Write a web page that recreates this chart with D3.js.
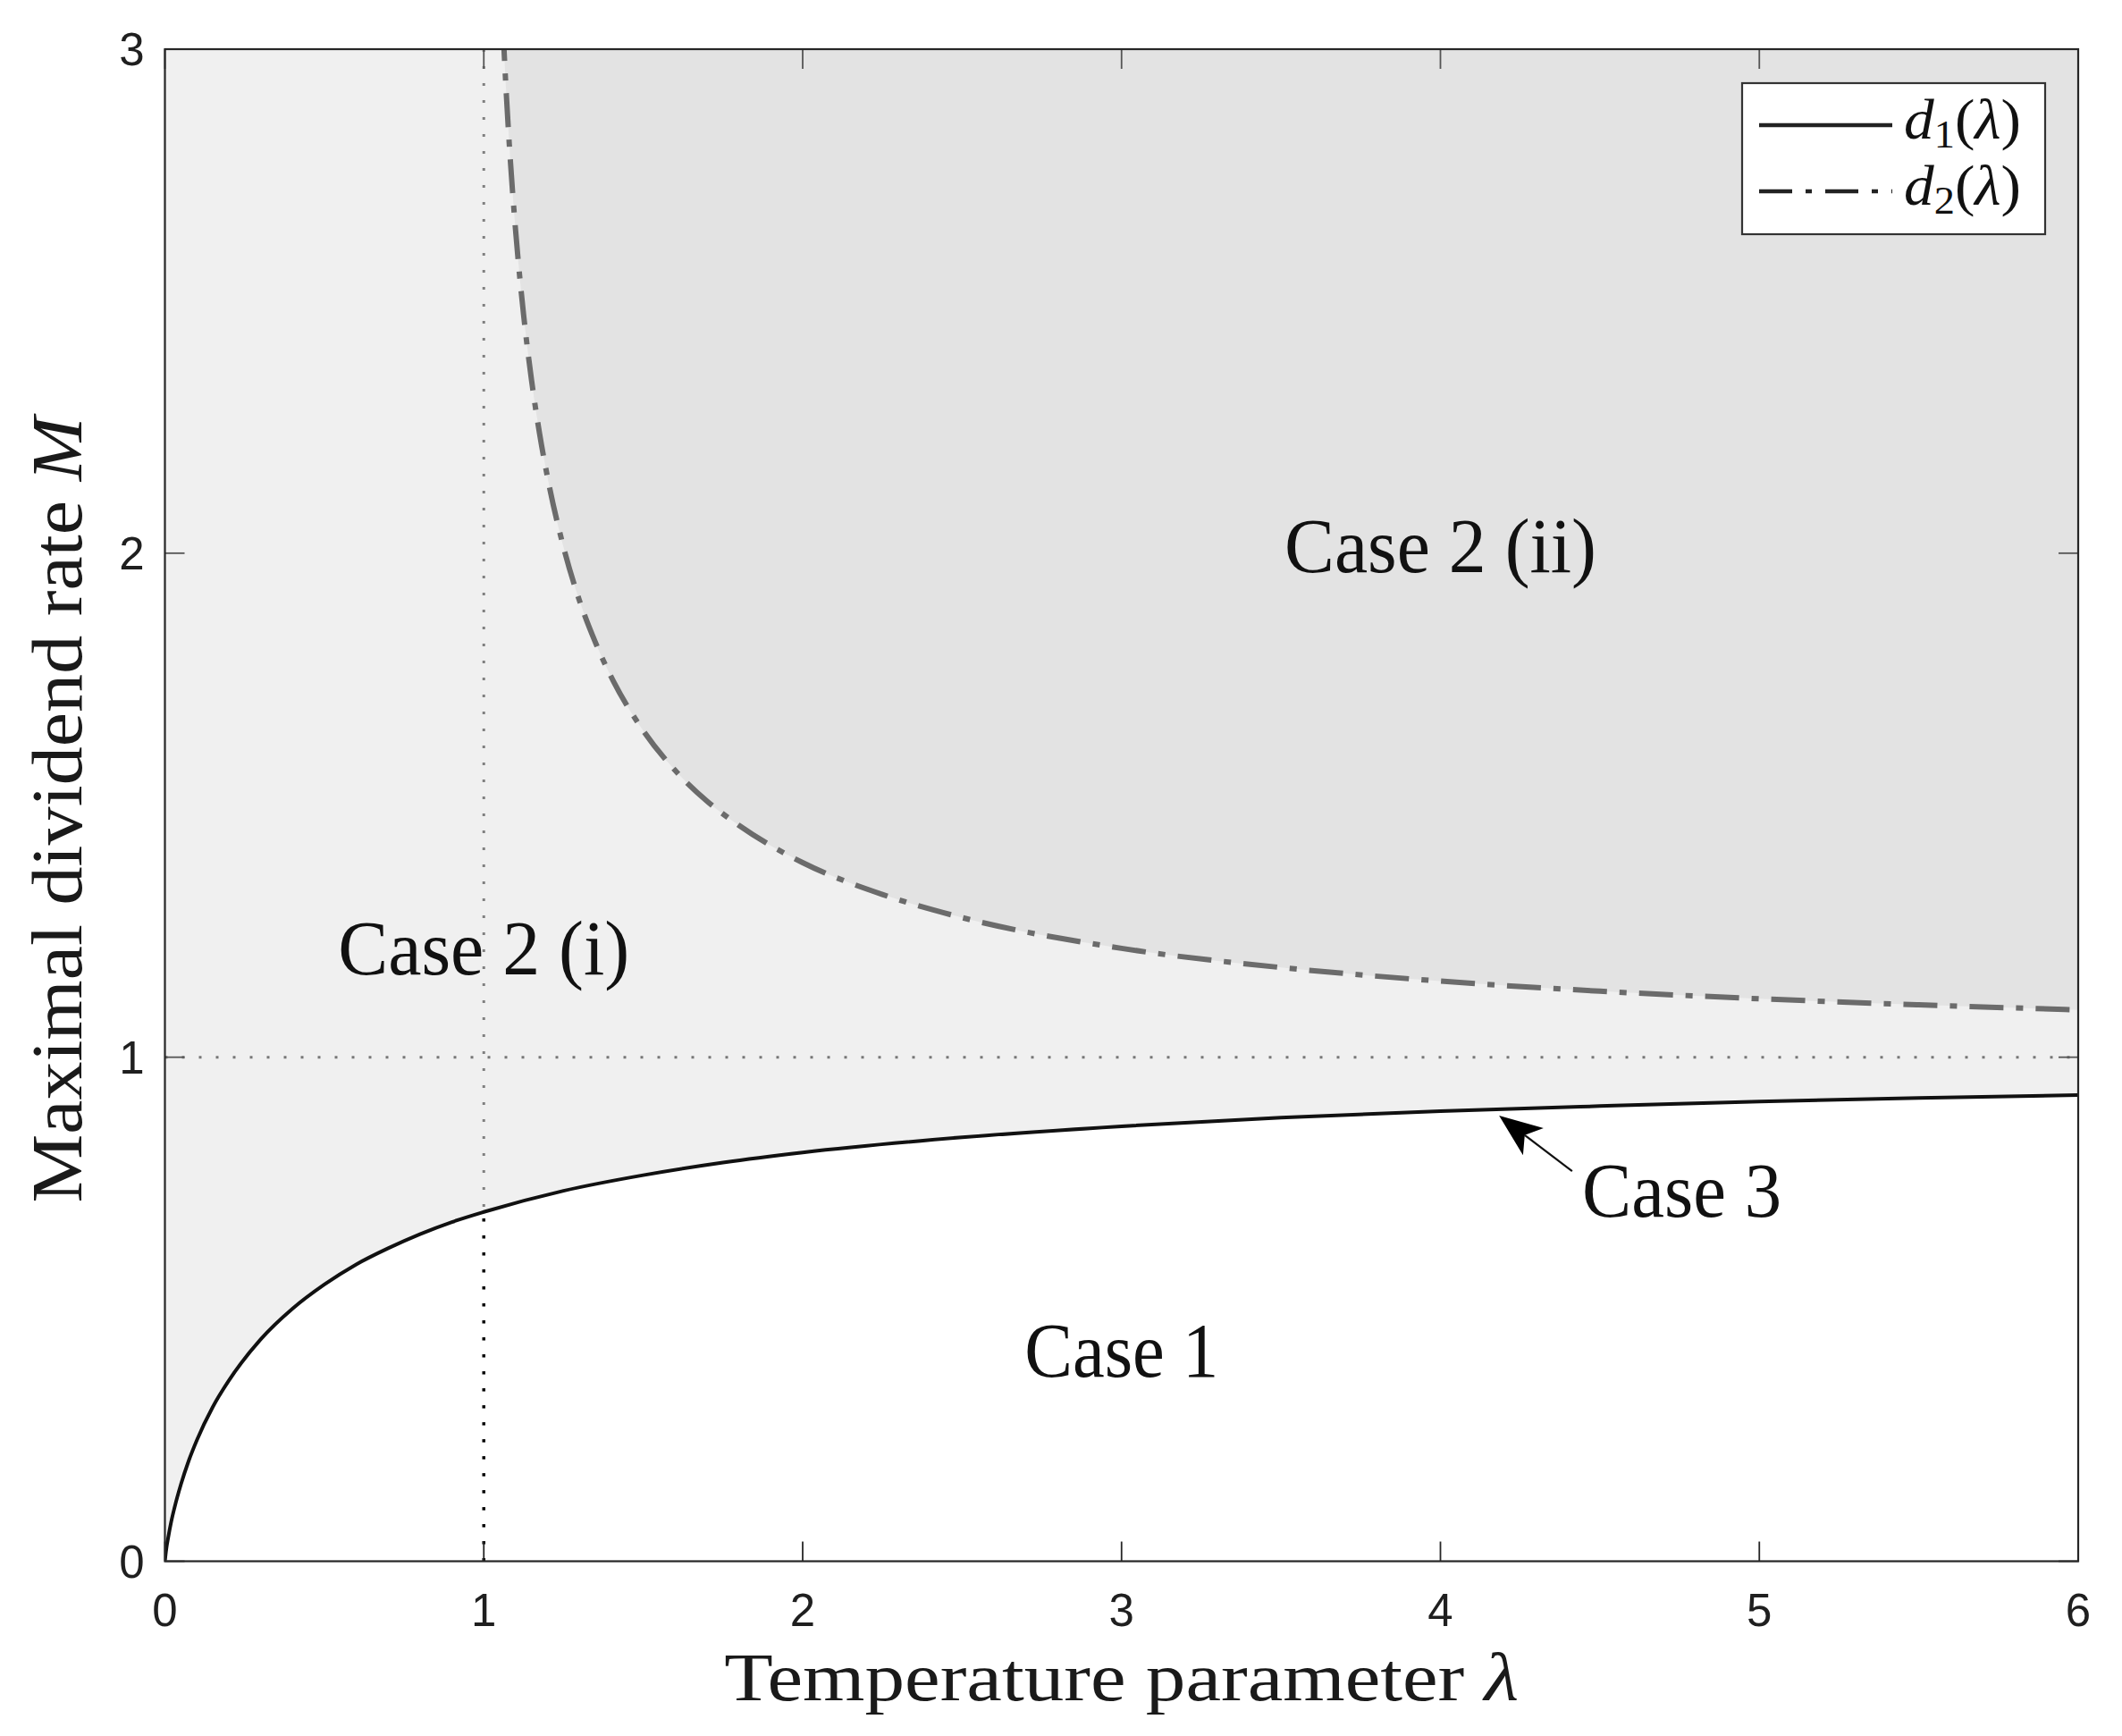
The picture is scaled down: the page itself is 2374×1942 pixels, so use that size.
<!DOCTYPE html>
<html>
<head>
<meta charset="utf-8">
<script src="https://cdn.jsdelivr.net/npm/d3@7"></script>
<style>
  html, body { margin: 0; padding: 0; background: #ffffff; }
  svg { display: block; }
</style>
</head>
<body>
<svg id="chart" width="2374" height="1942"></svg>
<script>
// ---------------- data ----------------
const xTicks = [0, 1, 2, 3, 4, 5, 6];
const yTicks = [0, 1, 2, 3];

// d1(lambda) : solid black curve
const lambda1 = [0, 0.002, 0.005, 0.01, 0.02, 0.03, 0.05, 0.075, 0.1, 0.15, 0.2, 0.3, 0.4, 0.5, 0.6, 0.7, 0.8, 0.9, 1.0, 1.25, 1.5, 1.75, 2, 2.5, 3, 3.5, 4, 4.5, 5, 5.5, 6];
const d1 = [0, 0.012, 0.027, 0.046, 0.079, 0.106, 0.152, 0.200, 0.240, 0.306, 0.358, 0.440, 0.501, 0.549, 0.589, 0.621, 0.649, 0.673, 0.693, 0.735, 0.766, 0.791, 0.811, 0.841, 0.863, 0.880, 0.893, 0.903, 0.912, 0.919, 0.925];

// d2(lambda) : dash-dot grey curve
const lambda2 = [1.06, 1.07, 1.08, 1.09, 1.1, 1.125, 1.15, 1.175, 1.2, 1.25, 1.3, 1.35, 1.4, 1.5, 1.6, 1.7, 1.8, 2, 2.25, 2.5, 3, 3.5, 4, 4.5, 5, 5.5, 6];
const d2 = [3.044, 2.918, 2.811, 2.719, 2.638, 2.472, 2.342, 2.237, 2.150, 2.012, 1.906, 1.823, 1.754, 1.648, 1.569, 1.508, 1.460, 1.386, 1.323, 1.277, 1.216, 1.178, 1.151, 1.131, 1.116, 1.104, 1.094];

// reference lines
const refLambda = 1;
const refM = 1;
const refLambdaCurveValue = 0.693;   // d1(1), where the vertical dotted line changes colour

// legend entries
const legendKeys = ["1", "2"];

// region labels: [text, lambda (centre), M (baseline)]
const regionLabels = [
  ["Case 2 (ii)", 4.00, 1.963],
  ["Case 2 (i)", 1.00, 1.1645],
  ["Case 1", 3.00, 0.366],
  ["Case 3", 4.757, 0.684]
];
// arrow for Case 3: tail -> tip, in data units
const arrowTail = [4.413, 0.774];
const arrowTip = [4.184, 0.884];

// ---------------- layout ----------------
const svg = d3.select("#chart");
const L = 184.5, R = 2325, T = 55, B = 1746.5;
const x = d3.scaleLinear().domain([0, 6]).range([L, R]);
const y = d3.scaleLinear().domain([0, 3]).range([B, T]);

const serif = "'Liberation Serif', 'Times New Roman', serif";
const sans = "'Liberation Sans', Arial, Helvetica, sans-serif";

svg.append("defs").append("clipPath").attr("id", "plotclip")
  .append("rect").attr("x", L).attr("y", T).attr("width", R - L).attr("height", B - T);

const plot = svg.append("g").attr("clip-path", "url(#plotclip)");

const pts1 = lambda1.map((l, i) => [l, d1[i]]);
const pts2 = lambda2.map((l, i) => [l, d2[i]]);

plot.append("rect").attr("x", L).attr("y", T).attr("width", R - L).attr("height", B - T).attr("fill", "#ffffff");

// light grey: above d1
plot.append("path")
  .datum(pts1)
  .attr("fill", "#f0f0f0")
  .attr("d", d3.area().x(d => x(d[0])).y0(y(3)).y1(d => y(d[1])).curve(d3.curveMonotoneX));

// darker grey: above d2
plot.append("path")
  .datum(pts2)
  .attr("fill", "#e3e3e3")
  .attr("d", d3.area().x(d => x(d[0])).y0(y(3.2)).y1(d => y(d[1])).curve(d3.curveMonotoneX));

// dotted reference lines
plot.append("line")
  .attr("x1", x(0)).attr("x2", x(6)).attr("y1", y(refM)).attr("y2", y(refM))
  .attr("stroke", "#777777").attr("stroke-width", 3).attr("stroke-dasharray", "3,16");
plot.append("line")
  .attr("x1", x(refLambda)).attr("x2", x(refLambda)).attr("y1", y(3)).attr("y2", y(refLambdaCurveValue))
  .attr("stroke", "#808080").attr("stroke-width", 3).attr("stroke-dasharray", "3,16");
plot.append("line")
  .attr("x1", x(refLambda)).attr("x2", x(refLambda)).attr("y1", y(0)).attr("y2", y(refLambdaCurveValue))
  .attr("stroke", "#000000").attr("stroke-width", 3.5).attr("stroke-dasharray", "3.5,15.5");

// curves
const line = d3.line().x(d => x(d[0])).y(d => y(d[1])).curve(d3.curveMonotoneX);
plot.append("path").datum(pts2)
  .attr("fill", "none").attr("stroke", "#6b6b6b").attr("stroke-width", 6)
  .attr("stroke-dasharray", "38,14,8,14").attr("d", line);
plot.append("path").datum(pts1)
  .attr("fill", "none").attr("stroke", "#111111").attr("stroke-width", 4).attr("d", line);

// ---------------- axes ----------------
const tickLen = 22;
const axisColor = "#262626";
const axG = svg.append("g");
xTicks.forEach(v => {
  axG.append("line").attr("x1", x(v)).attr("x2", x(v)).attr("y1", B).attr("y2", B - tickLen)
    .attr("stroke", axisColor).attr("stroke-width", 1.8);
  axG.append("line").attr("x1", x(v)).attr("x2", x(v)).attr("y1", T).attr("y2", T + tickLen)
    .attr("stroke", "#555").attr("stroke-width", 1.8);
  axG.append("text").attr("x", x(v)).attr("y", B + 72)
    .attr("text-anchor", "middle").attr("font-family", sans).attr("font-size", 51)
    .attr("fill", "#1f1f1f").text(d3.format("d")(v));
});
yTicks.forEach(v => {
  axG.append("line").attr("x1", L).attr("x2", L + tickLen).attr("y1", y(v)).attr("y2", y(v))
    .attr("stroke", "#555").attr("stroke-width", 1.8);
  axG.append("line").attr("x1", R).attr("x2", R - tickLen).attr("y1", y(v)).attr("y2", y(v))
    .attr("stroke", "#555").attr("stroke-width", 1.8);
  axG.append("text").attr("x", L - 23).attr("y", y(v) + 18)
    .attr("text-anchor", "end").attr("font-family", sans).attr("font-size", 51)
    .attr("fill", "#1f1f1f").text(d3.format("d")(v));
});
axG.append("rect").attr("x", L).attr("y", T).attr("width", R - L).attr("height", B - T)
  .attr("fill", "none").attr("stroke", axisColor).attr("stroke-width", 2.2);

// axis titles
const xt = svg.append("text").attr("x", (L + R) / 2).attr("y", 1902)
  .attr("text-anchor", "middle").attr("font-family", serif).attr("font-size", 76)
  .attr("fill", "#1a1a1a").attr("textLength", 889).attr("lengthAdjust", "spacingAndGlyphs");
xt.append("tspan").text("Temperature parameter ");
xt.append("tspan").attr("font-style", "italic").text("λ");

const yt = svg.append("text")
  .attr("transform", `translate(91, 906) rotate(-90)`)
  .attr("text-anchor", "middle").attr("font-family", serif).attr("font-size", 80)
  .attr("fill", "#1a1a1a").attr("textLength", 879).attr("lengthAdjust", "spacingAndGlyphs");
yt.append("tspan").text("Maximal dividend rate ");
yt.append("tspan").attr("font-style", "italic").text("M");

// ---------------- region labels ----------------
const labelWidths = {"Case 2 (ii)": 349, "Case 2 (i)": 326, "Case 1": 217, "Case 3": 223};
regionLabels.forEach(([txt, lx, ly]) => {
  svg.append("text").attr("x", x(lx)).attr("y", y(ly))
    .attr("text-anchor", "middle").attr("font-family", serif).attr("font-size", 87)
    .attr("fill", "#111").attr("textLength", labelWidths[txt]).attr("lengthAdjust", "spacingAndGlyphs")
    .text(txt);
});

// arrow (Case 3)
{
  const x0 = x(arrowTail[0]), y0 = y(arrowTail[1]);
  const x1 = x(arrowTip[0]), y1 = y(arrowTip[1]);
  const ang = Math.atan2(y1 - y0, x1 - x0);
  const headL = 48, headW = 19, back = 12;
  const ux = Math.cos(ang), uy = Math.sin(ang);
  const px = -uy, py = ux;
  const bx = x1 - ux * headL, by = y1 - uy * headL;
  const nx = x1 - ux * (headL - back), ny = y1 - uy * (headL - back);
  svg.append("line").attr("x1", x0).attr("y1", y0).attr("x2", nx).attr("y2", ny)
    .attr("stroke", "#111").attr("stroke-width", 2.2);
  svg.append("path")
    .attr("d", `M${x1},${y1} L${bx + px * headW},${by + py * headW} L${nx},${ny} L${bx - px * headW},${by - py * headW} Z`)
    .attr("fill", "#000");
}

// ---------------- legend ----------------
const lg = svg.append("g");
lg.append("rect").attr("x", 1949).attr("y", 93).attr("width", 339).attr("height", 169)
  .attr("fill", "#ffffff").attr("stroke", "#333").attr("stroke-width", 2.2);
legendKeys.forEach((k, i) => {
  const ly = 140 + i * 74;
  lg.append("line").attr("x1", 1968).attr("x2", 2117).attr("y1", ly).attr("y2", ly)
    .attr("stroke", "#222").attr("stroke-width", 4.5)
    .attr("stroke-dasharray", i === 0 ? null : "37,15,7,15");
  const t = lg.append("text").attr("x", 2130).attr("y", ly + 15)
    .attr("font-family", serif).attr("font-size", 64).attr("fill", "#111")
    .attr("textLength", 131).attr("lengthAdjust", "spacingAndGlyphs");
  t.append("tspan").attr("font-style", "italic").text("d");
  t.append("tspan").attr("font-size", 44).attr("dy", 10).text(k);
  t.append("tspan").attr("dy", -10).text("(");
  t.append("tspan").attr("font-style", "italic").text("λ");
  t.append("tspan").text(")");
});
</script>
</body>
</html>
